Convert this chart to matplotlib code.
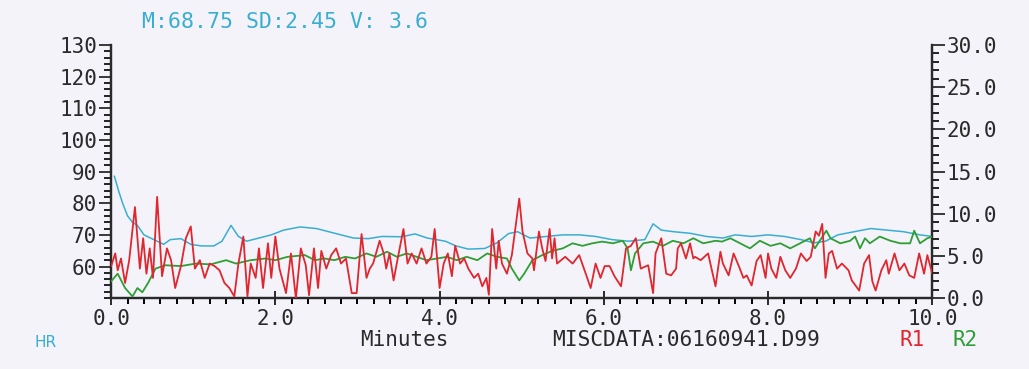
import numpy as np
import matplotlib.pyplot as plt
from matplotlib.ticker import MultipleLocator, FormatStrFormatter

# HR (left axis, bpm)
hr_t = [0.04, 0.09, 0.14, 0.20, 0.26, 0.32, 0.40, 0.48, 0.56, 0.64, 0.72, 0.85, 0.97,
        1.10, 1.25, 1.35, 1.46, 1.55, 1.65, 1.80, 1.95, 2.10, 2.30, 2.50, 2.65, 2.80,
        2.95, 3.13, 3.30, 3.54, 3.70, 3.85, 4.07, 4.20, 4.35, 4.55, 4.70, 4.84, 4.95,
        5.10, 5.30, 5.50, 5.70, 5.90, 6.10, 6.30, 6.50, 6.60, 6.70, 6.85, 7.05, 7.25,
        7.45, 7.60, 7.80, 8.00, 8.20, 8.40, 8.56, 8.70, 8.85, 9.05, 9.25, 9.45, 9.65,
        9.85, 10.0]
hr = [88.5, 84.0, 80.0, 76.0, 74.0, 73.0, 70.0, 69.0, 68.0, 67.0, 68.5, 68.8, 67.0,
      66.5, 66.5, 68.0, 73.0, 69.5, 68.0, 69.0, 70.0, 71.5, 72.5, 72.0, 71.0, 70.0,
      69.0, 68.8, 69.5, 69.4, 70.3, 69.0, 68.0, 66.5, 65.5, 65.7, 67.5, 70.4, 71.0,
      69.0, 69.5, 70.0, 70.0, 69.5, 68.5, 68.0, 68.5, 73.5, 71.5, 71.0, 70.5, 69.5,
      69.0, 70.0, 69.5, 70.0, 69.5, 68.5, 67.5, 68.0, 70.0, 71.0, 72.0, 71.5, 71.0,
      70.0, 69.5]

# R1 (right axis)
r1_t = [0.00, 0.05, 0.08, 0.12, 0.17, 0.22, 0.29, 0.35, 0.39, 0.43, 0.47, 0.51, 0.56,
        0.62, 0.68, 0.73, 0.78, 0.85, 0.91, 0.97, 1.02, 1.08, 1.14, 1.20, 1.26, 1.32,
        1.38, 1.44, 1.50, 1.55, 1.61, 1.66, 1.70, 1.76, 1.80, 1.85, 1.91, 1.95, 2.00,
        2.05, 2.13, 2.19, 2.25, 2.31, 2.37, 2.41, 2.47, 2.52, 2.56, 2.62, 2.68, 2.74,
        2.80, 2.86, 2.93, 2.99, 3.05, 3.11, 3.15, 3.19, 3.27, 3.32, 3.35, 3.39, 3.44,
        3.49, 3.56, 3.61, 3.66, 3.72, 3.78, 3.84, 3.90, 3.94, 4.00, 4.05, 4.10, 4.15,
        4.19, 4.25, 4.30, 4.35, 4.42, 4.47, 4.52, 4.57, 4.60, 4.64, 4.69, 4.72, 4.76,
        4.82, 4.88, 4.97, 5.01, 5.07, 5.13, 5.15, 5.21, 5.25, 5.29, 5.34, 5.37, 5.40,
        5.43, 5.53, 5.62, 5.70, 5.78, 5.84, 5.90, 5.96, 6.01, 6.07, 6.13, 6.21, 6.27,
        6.33, 6.39, 6.45, 6.54, 6.60, 6.63, 6.70, 6.76, 6.82, 6.88, 6.90, 6.94, 7.00,
        7.05, 7.09, 7.11, 7.18, 7.27, 7.36, 7.42, 7.45, 7.52, 7.58, 7.64, 7.70, 7.74,
        7.80, 7.86, 7.91, 7.97, 8.00, 8.04, 8.10, 8.15, 8.21, 8.27, 8.34, 8.40, 8.47,
        8.52, 8.58, 8.62, 8.66, 8.70, 8.74, 8.78, 8.84, 8.90, 8.98, 9.02, 9.11, 9.17,
        9.23, 9.27, 9.31, 9.38, 9.44, 9.47, 9.54, 9.60, 9.66, 9.72, 9.78, 9.84, 9.90,
        9.94, 10.0]
r1 = [3.8, 5.3, 3.3, 4.7, 1.8, 4.5, 10.8, 3.5, 7.1, 2.9, 5.9, 2.4, 12.0,
      2.6, 5.9, 4.5, 1.2, 3.8, 7.1, 8.5, 3.5, 4.5, 2.4, 4.1, 3.8, 3.3,
      1.8, 1.2, 0.2, 4.1, 7.3, 0.2, 4.1, 2.4, 5.9, 1.2, 6.5, 2.4, 7.3,
      3.5, 0.6, 5.3, 0.0, 5.9, 3.9, 0.35, 5.9, 1.2, 5.6, 3.5, 5.1, 5.9,
      4.1, 4.7, 0.6, 0.6, 7.6, 2.4, 3.5, 4.1, 6.8, 5.3, 3.5, 5.3, 2.1,
      4.7, 8.2, 4.1, 5.3, 4.1, 5.9, 4.1, 4.9, 8.2, 1.2, 4.1, 5.3, 2.6,
      6.2, 4.1, 4.7, 3.5, 2.4, 2.9, 1.4, 2.4, 0.4, 8.2, 3.5, 6.8, 4.1,
      2.9, 5.1, 11.8, 7.9, 5.3, 4.7, 3.3, 7.9, 5.9, 4.4, 8.2, 4.7, 7.1,
      4.1, 4.9, 4.1, 5.1, 2.9, 1.2, 4.1, 2.4, 3.8, 3.8, 2.6, 1.4, 5.9,
      6.2, 7.1, 3.5, 3.9, 0.6, 5.3, 7.1, 2.9, 2.7, 3.5, 5.9, 6.5, 4.7,
      6.5, 4.7, 4.9, 4.5, 5.3, 1.4, 5.5, 4.1, 2.7, 5.3, 3.9, 2.4, 2.7,
      1.5, 4.4, 5.1, 2.4, 5.3, 3.5, 2.4, 4.9, 3.3, 2.4, 3.5, 5.3, 4.4,
      4.9, 7.9, 7.4, 8.8, 2.4, 5.3, 5.6, 3.5, 4.1, 3.3, 2.1, 0.9, 4.1,
      5.1, 2.0, 0.9, 3.3, 4.5, 2.9, 5.3, 3.3, 4.1, 2.7, 2.4, 5.3, 2.9,
      5.1, 2.9]

# R2 (right axis)
r2_t = [0.00, 0.08, 0.17, 0.26, 0.32, 0.38, 0.45, 0.54, 0.66, 0.85, 1.03, 1.21, 1.40,
        1.52, 1.70, 1.88, 2.00, 2.15, 2.36, 2.48, 2.60, 2.72, 2.85, 2.97, 3.11, 3.23,
        3.36, 3.48, 3.60, 3.72, 3.84, 3.97, 4.09, 4.21, 4.33, 4.46, 4.58, 4.70, 4.82,
        4.88, 4.97, 5.03, 5.13, 5.25, 5.37, 5.50, 5.62, 5.74, 5.86, 5.98, 6.11, 6.23,
        6.29, 6.33, 6.38, 6.48, 6.60, 6.72, 6.84, 6.97, 7.09, 7.21, 7.36, 7.44, 7.54,
        7.66, 7.78, 7.90, 8.03, 8.15, 8.27, 8.39, 8.51, 8.57, 8.71, 8.76, 8.88, 9.00,
        9.06, 9.12, 9.18, 9.24, 9.36, 9.49, 9.61, 9.73, 9.78, 9.85, 9.94, 10.0]
r2 = [2.0, 2.9, 1.2, 0.2, 1.2, 0.7, 1.8, 3.5, 3.9, 3.8, 4.1, 4.0, 4.5,
      4.1, 4.5, 4.7, 4.5, 4.9, 5.1, 4.5, 4.7, 4.5, 4.9, 4.7, 5.3, 4.9,
      5.5, 4.9, 5.3, 4.9, 4.5, 4.7, 4.9, 4.5, 4.9, 4.5, 5.3, 4.9, 4.7,
      3.5, 2.1, 2.9, 4.5, 5.1, 5.6, 5.9, 6.5, 6.2, 6.5, 6.7, 6.5, 6.8,
      5.9, 3.3, 5.3, 6.5, 6.7, 6.2, 6.8, 6.5, 7.1, 6.5, 6.8, 6.7, 7.1,
      6.5, 5.9, 6.8, 6.2, 6.5, 5.9, 6.5, 7.1, 5.9, 8.0, 7.1, 6.5, 6.8,
      7.3, 5.9, 7.1, 6.5, 7.3, 6.8, 6.5, 6.5, 8.0, 6.5, 7.1, 7.3]

x_ticks = [0.0, 2.0, 4.0, 6.0, 8.0, 10.0]
hr_ticks = [60, 70, 80, 90, 100, 110, 120, 130]
r_ticks = [0.0, 5.0, 10.0, 15.0, 20.0, 25.0, 30.0]

BG = '#f4f3fa'
CYAN = '#3aaed0'
RED = '#e0262e'
GREEN = '#2f9e35'
INK = '#2a2a2a'
MONO = 'DejaVu Sans Mono'

fig = plt.figure(figsize=(10.29, 3.69), dpi=100, facecolor=BG)
ax = fig.add_axes([0.108, 0.192, 0.798, 0.686])
ax.set_facecolor(BG)
ax2 = ax.twinx()

ax.plot(hr_t, hr, color=CYAN, linewidth=1.1, zorder=2)
ax2.plot(r2_t, r2, color=GREEN, linewidth=1.3, zorder=3)
ax2.plot(r1_t, r1, color=RED, linewidth=1.3, zorder=4)

ax.set_xlim(0, 10)
ax.set_ylim(50, 130)
ax2.set_ylim(0, 30)

ax.set_xticks(x_ticks)
ax.xaxis.set_major_formatter(FormatStrFormatter('%.1f'))
ax.xaxis.set_minor_locator(MultipleLocator(0.2))
ax.set_yticks(hr_ticks)
ax.yaxis.set_minor_locator(MultipleLocator(2))
ax2.set_yticks(r_ticks)
ax2.yaxis.set_major_formatter(FormatStrFormatter('%.1f'))
ax2.yaxis.set_minor_locator(MultipleLocator(1))

for a in (ax, ax2):
    a.spines['top'].set_visible(False)
    for s in ('left', 'right', 'bottom'):
        a.spines[s].set_linewidth(1.6)
        a.spines[s].set_color(INK)

ax.tick_params(axis='x', which='major', direction='inout', length=10, width=1.4,
               labelsize=15, pad=3, colors=INK)
ax.tick_params(axis='x', which='minor', direction='out', length=4, width=1.4)
ax.tick_params(axis='y', which='major', direction='out', length=9, width=1.3,
               labelsize=15, pad=1, colors=INK)
ax.tick_params(axis='y', which='minor', direction='out', length=5, width=1.2)
ax2.tick_params(axis='y', which='major', direction='out', length=9, width=1.3,
                labelsize=15, pad=1, colors=INK)
ax2.tick_params(axis='y', which='minor', direction='out', length=5, width=1.2)

for lab in ax.get_xticklabels() + ax.get_yticklabels() + ax2.get_yticklabels():
    lab.set_fontfamily(MONO)

fig.text(0.138, 0.94, 'M:68.75 SD:2.45 V: 3.6', color=CYAN, fontsize=15.5,
         family=MONO, va='center')
fig.text(0.034, 0.073, 'HR', color=CYAN, fontsize=11, family='DejaVu Sans', va='center')
fig.text(0.393, 0.079, 'Minutes', color=INK, fontsize=15, family=MONO,
         ha='center', va='center')
fig.text(0.537, 0.079, 'MISCDATA:06160941.D99', color=INK, fontsize=15.3,
         family=MONO, va='center')
fig.text(0.874, 0.079, 'R1', color=RED, fontsize=15, family=MONO, va='center')
fig.text(0.926, 0.079, 'R2', color=GREEN, fontsize=15, family=MONO, va='center')

fig.savefig('out.png', dpi=100, facecolor=BG)
